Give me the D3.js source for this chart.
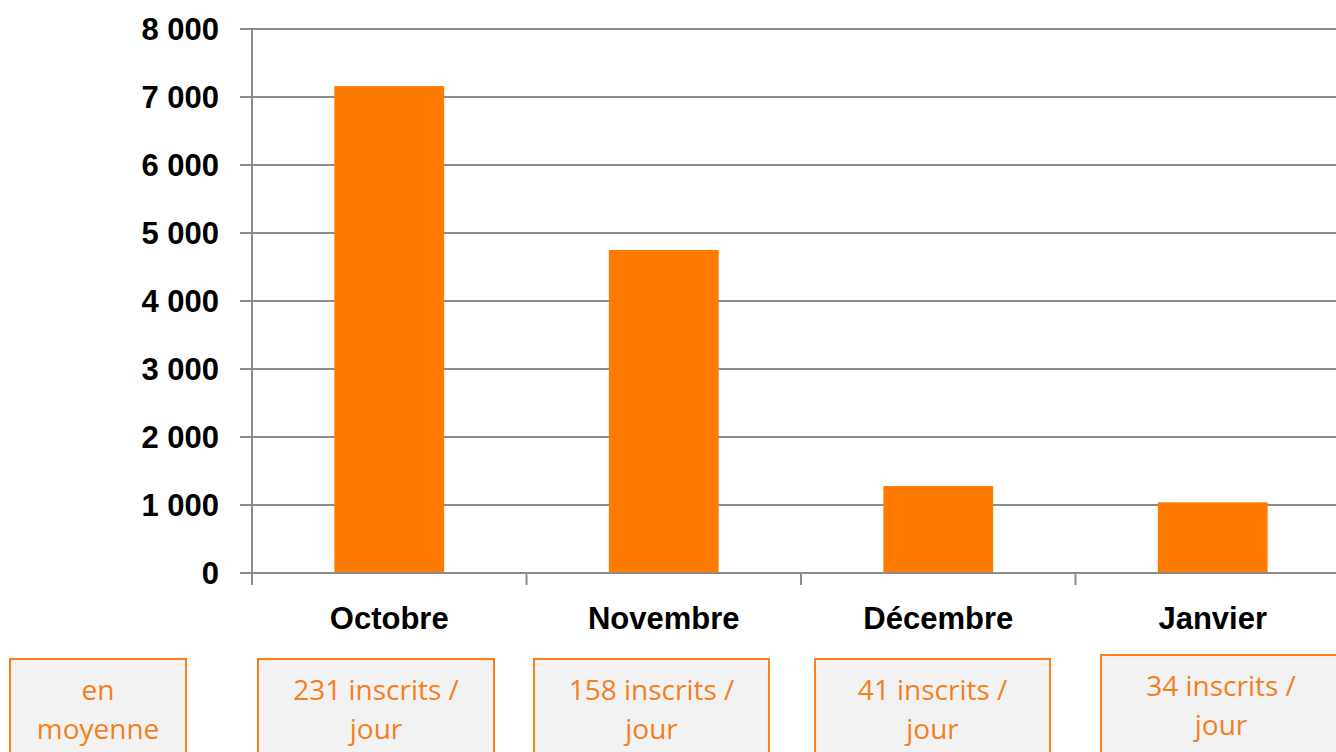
<!DOCTYPE html>
<html>
<head>
<meta charset="utf-8">
<script src="https://cdn.jsdelivr.net/npm/d3@7"></script>
<style>
  html, body { margin: 0; padding: 0; background: #fff; }
  svg { display: block; }
  .tick-label { font-family: "Liberation Sans", Arial, sans-serif; font-weight: bold; font-size: 31px; fill: #000; }
  .note { font-family: "Open Sans", "Noto Sans", sans-serif; font-size: 28px; fill: #f57f1f; }
</style>
</head>
<body>
<div id="chart"></div>
<script>
const months = ['Octobre', 'Novembre', 'Décembre', 'Janvier'];
const inscrits = [7160, 4750, 1280, 1040];
const yTicks = [0, 1000, 2000, 3000, 4000, 5000, 6000, 7000, 8000];
const notes = [
    ['en', 'moyenne'],
    ['231 inscrits /', 'jour'],
    ['158 inscrits /', 'jour'],
    ['41 inscrits /', 'jour'],
    ['34 inscrits /', 'jour'],
];

const W = 1336, H = 752;
const margin = { left: 252, top: 29 };
const plotW = 1098, plotH = 544;

const svg = d3.select('#chart').append('svg')
    .attr('width', W)
    .attr('height', H);

const g = svg.append('g')
    .attr('transform', 'translate(' + margin.left + ',' + margin.top + ')');

const x = d3.scaleBand()
    .domain(months)
    .range([0, plotW])
    .paddingInner(0.6)
    .paddingOuter(0.3);

const y = d3.scaleLinear()
    .domain([0, 8000])
    .range([plotH, 0]);

const fmt = v => d3.format(',')(v).replace(/,/g, ' ');

// horizontal grid + left ticks
g.selectAll('line.grid')
    .data(yTicks)
    .join('line')
    .attr('class', 'grid')
    .attr('x1', -12)
    .attr('x2', plotW)
    .attr('y1', d => y(d))
    .attr('y2', d => y(d))
    .attr('stroke', '#8c8c8c')
    .attr('stroke-width', 2);

g.selectAll('text.ylab')
    .data(yTicks)
    .join('text')
    .attr('class', 'tick-label ylab')
    .attr('x', -33)
    .attr('y', d => y(d))
    .attr('dy', '0.36em')
    .attr('text-anchor', 'end')
    .text(fmt);

// bars
g.selectAll('rect.bar')
    .data(months)
    .join('rect')
    .attr('class', 'bar')
    .attr('x', d => x(d))
    .attr('width', x.bandwidth())
    .attr('y', (d, i) => y(inscrits[i]))
    .attr('height', (d, i) => plotH - y(inscrits[i]))
    .attr('fill', '#ff7b00');

// baseline over bars
g.append('line')
    .attr('x1', 0).attr('x2', plotW)
    .attr('y1', plotH).attr('y2', plotH)
    .attr('stroke', '#8c8c8c').attr('stroke-width', 2);

// y axis line
g.append('line')
    .attr('x1', 0).attr('x2', 0)
    .attr('y1', 0).attr('y2', plotH + 12)
    .attr('stroke', '#8c8c8c').attr('stroke-width', 2);

// category separators
g.selectAll('line.sep')
    .data(months)
    .join('line')
    .attr('class', 'sep')
    .attr('x1', (d, i) => (i + 1) * plotW / months.length)
    .attr('x2', (d, i) => (i + 1) * plotW / months.length)
    .attr('y1', plotH)
    .attr('y2', plotH + 12)
    .attr('stroke', '#8c8c8c').attr('stroke-width', 2);

g.selectAll('text.xlab')
    .data(months)
    .join('text')
    .attr('class', 'tick-label xlab')
    .attr('x', d => x(d) + x.bandwidth() / 2)
    .attr('y', plotH + 56)
    .attr('text-anchor', 'middle')
    .text(d => d);

// note boxes under the chart
const boxes = [
    { x: 10, w: 176, top: 659 },
    { x: 258, w: 236, top: 659 },
    { x: 534, w: 235, top: 659 },
    { x: 815, w: 235, top: 659 },
    { x: 1101, w: 240, top: 655 },
];

const nb = svg.selectAll('g.note-box')
    .data(notes)
    .join('g')
    .attr('class', 'note-box');

nb.append('rect')
    .attr('x', (d, i) => boxes[i].x)
    .attr('y', (d, i) => boxes[i].top)
    .attr('width', (d, i) => boxes[i].w)
    .attr('height', (d, i) => H - boxes[i].top + 10)
    .attr('fill', '#f2f2f2')
    .attr('stroke', '#fb7f1a')
    .attr('stroke-width', 2);

nb.each(function (d, i) {
    const b = boxes[i];
    const t = d3.select(this).append('text')
        .attr('class', 'note')
        .attr('text-anchor', 'middle');
    d.forEach((line, k) => {
        t.append('tspan')
            .attr('x', b.x + b.w / 2)
            .attr('y', b.top + 41 + k * 39)
            .text(line);
    });
});
</script>
</body>
</html>
